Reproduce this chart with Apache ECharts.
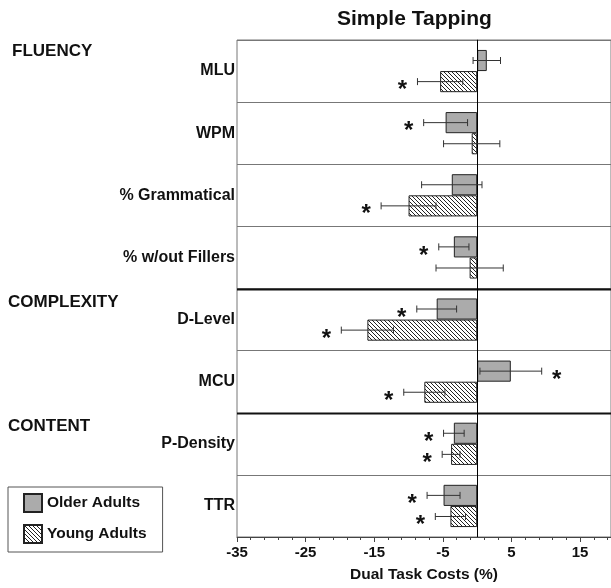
<!DOCTYPE html>
<html>
<head>
<meta charset="utf-8">
<script src="https://cdn.jsdelivr.net/npm/echarts@6/dist/echarts.min.js"></script>
<style>html,body{margin:0;padding:0;background:#fff}#c{width:611px;height:588px}</style>
</head>
<body>
<div id="c"></div>
<script>
// ---- data ----
var categories = ['MLU', 'WPM', '% Grammatical', '% w/out Fillers', 'D-Level', 'MCU', 'P-Density', 'TTR'];
var olderValues = [1.4, -4.6, -3.7, -3.4, -5.9, 4.9, -3.4, -4.9];
var olderErrors = [2.0, 3.2, 4.4, 2.2, 2.9, 4.5, 1.5, 2.4];
var youngValues = [-5.4, -0.8, -10.0, -1.1, -16.0, -7.7, -3.8, -3.9];
var youngErrors = [3.3, 4.1, 4.0, 4.9, 3.8, 3.0, 1.3, 2.2];
var olderSig = [0, 1, 0, 1, 1, 1, 1, 1];
var youngSig = [1, 0, 1, 0, 1, 1, 1, 1];
var groupNames = ['FLUENCY', 'COMPLEXITY', 'CONTENT'];
var groupBreaksAfter = [3, 5];
var tickLabels = [-35, -25, -15, -5, 5, 15];
var seriesNames = ['Older Adults', 'Young Adults'];

var FONT = "'Liberation Sans', Arial, Helvetica, sans-serif";

// hatch pattern
function makeHatch() {
  var s = 4;
  var cv = document.createElement('canvas');
  cv.width = s; cv.height = s;
  var ctx = cv.getContext('2d');
  ctx.fillStyle = '#ffffff';
  ctx.fillRect(0, 0, s, s);
  ctx.strokeStyle = '#222222';
  ctx.lineWidth = 1;
  ctx.beginPath();
  for (var k = -s; k <= s; k += s) {
    ctx.moveTo(k, 0);
    ctx.lineTo(k + s, s);
  }
  ctx.stroke();
  return cv;
}
var hatch = makeHatch();

var errData = [];
for (var i = 0; i < categories.length; i++) {
  errData.push([olderValues[i], olderErrors[i], i, 0, olderSig[i]]);
  errData.push([youngValues[i], youngErrors[i], i, 1, youngSig[i]]);
}
var breakData = groupBreaksAfter.map(function (b) { return [0, b]; });

var chart = echarts.init(document.getElementById('c'), null, { renderer: 'canvas' });

var option = {
  animation: false,
  backgroundColor: '#ffffff',
  textStyle: { fontFamily: FONT },
  title: {
    text: 'Simple Tapping',
    left: 332, top: 4,
    textStyle: { fontFamily: FONT, fontSize: 21, fontWeight: 'bold', color: '#111' }
  },
  legend: {
    data: seriesNames,
    orient: 'vertical',
    left: 8, top: 487,
    padding: [6, 16, 8, 15],
    itemWidth: 18, itemHeight: 18, itemGap: 11,
    borderColor: '#555', borderWidth: 1,
    icon: 'rect',
    textStyle: { fontFamily: FONT, fontSize: 15.5, fontWeight: 'bold', color: '#111', lineHeight: 18 }
  },
  grid: {
    left: 237, right: 0, top: 40, bottom: 51,
    show: true, borderColor: '#777', borderWidth: 1, containLabel: false
  },
  xAxis: {
    type: 'value',
    min: -35, max: 19.5, interval: 10,
    name: 'Dual Task Costs (%)',
    nameLocation: 'middle', nameGap: 30,
    nameTextStyle: { fontFamily: FONT, fontSize: 15.5, fontWeight: 'bold', color: '#111' },
    axisLine: { show: true, onZero: false, lineStyle: { color: '#444', width: 1 } },
    axisTick: { show: true, length: 5, lineStyle: { color: '#444' } },
    minorTick: { show: true, splitNumber: 5, length: 3, lineStyle: { color: '#444' } },
    splitLine: { show: false },
    axisLabel: {
      margin: 8,
      fontFamily: FONT, fontSize: 15, fontWeight: 'bold', color: '#111',
      showMaxLabel: false,
      formatter: function (v) { return tickLabels.indexOf(Math.round(v)) >= 0 && Math.abs(v - Math.round(v)) < 1e-6 ? String(v) : ''; }
    }
  },
  yAxis: {
    type: 'category',
    inverse: true,
    data: categories,
    axisLine: { show: true, lineStyle: { color: '#444', width: 1 } },
    axisTick: { show: false },
    splitLine: { show: true, lineStyle: { color: '#777', width: 1 } },
    axisLabel: { margin: 2, fontFamily: FONT, fontSize: 16, fontWeight: 'bold', color: '#111' }
  },
  graphic: [
    { type: 'text', left: 12, top: 43, style: { text: groupNames[0], font: 'bold 17px ' + FONT, fill: '#111' } },
    { type: 'text', left: 8, top: 294, style: { text: groupNames[1], font: 'bold 17px ' + FONT, fill: '#111' } },
    { type: 'text', left: 8, top: 418, style: { text: groupNames[2], font: 'bold 17px ' + FONT, fill: '#111' } }
  ],
  series: [
    {
      name: seriesNames[0], type: 'bar', data: olderValues,
      barGap: '0%', barCategoryGap: '32%',
      itemStyle: { color: '#ababab', borderColor: '#222', borderWidth: 1 },
      markLine: {
        silent: true, symbol: 'none', label: { show: false },
        lineStyle: { color: '#000', width: 1, type: 'solid' },
        data: [{ xAxis: 0 }]
      },
      z: 2
    },
    {
      name: seriesNames[1], type: 'bar', data: youngValues,
      barGap: '0%', barCategoryGap: '32%',
      itemStyle: { color: { image: hatch, repeat: 'repeat' }, borderColor: '#222', borderWidth: 1 },
      z: 2
    },
    {
      type: 'custom', name: 'errors', data: errData,
      encode: { x: 0, y: 2 }, z: 5, clip: false, silent: true,
      renderItem: function (params, api) {
        var v = api.value(0), e = api.value(1), ci = api.value(2), g = api.value(3), sig = api.value(4);
        var c = api.coord([0, ci]);
        var band = api.size([0, 1])[1];
        var yc = c[1] + (g === 0 ? -1 : 1) * band * 0.17;
        var lo = api.coord([v - e, ci])[0];
        var hi = api.coord([v + e, ci])[0];
        var cap = 3.5;
        var st = { stroke: '#333', lineWidth: 1 };
        var ch = [
          { type: 'line', shape: { x1: lo, y1: yc, x2: hi, y2: yc }, style: st },
          { type: 'line', shape: { x1: lo, y1: yc - cap, x2: lo, y2: yc + cap }, style: st },
          { type: 'line', shape: { x1: hi, y1: yc - cap, x2: hi, y2: yc + cap }, style: st }
        ];
        if (sig) {
          var sx = v < 0 ? lo - 15 : hi + 15;
          ch.push({ type: 'text', style: { x: sx, y: yc + 9, text: '*', font: 'bold 24px ' + FONT, fill: '#111', align: 'center', verticalAlign: 'middle' } });
        }
        return { type: 'group', children: ch };
      }
    },
    {
      type: 'custom', name: 'breaks', data: breakData,
      encode: { x: 0, y: 1 }, z: 4, silent: true, clip: false,
      renderItem: function (params, api) {
        var b = api.value(1);
        var c = api.coord([0, b]);
        var band = api.size([0, 1])[1];
        var y = Math.round(c[1] + band / 2) + 0.5;
        var x1 = params.coordSys.x, x2 = params.coordSys.x + params.coordSys.width;
        return { type: 'line', shape: { x1: x1, y1: y, x2: x2, y2: y }, style: { stroke: '#111', lineWidth: 2 } };
      }
    }
  ]
};
chart.setOption(option);
</script>
</body>
</html>
